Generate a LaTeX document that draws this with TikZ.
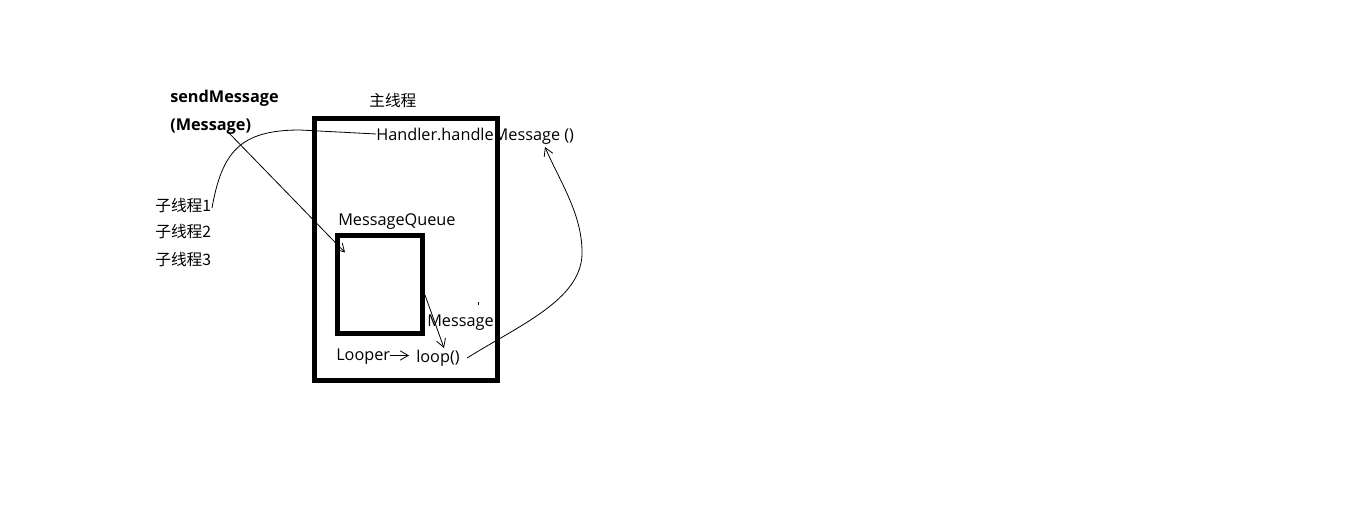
\documentclass[tikz,border=0pt]{standalone}
\usepackage{fontspec}
\setmainfont{Open Sans}
\newfontfamily\cjk{Noto Sans CJK SC}
\usetikzlibrary{arrows.meta}
\begin{document}
\begin{tikzpicture}[x=0.75pt,y=-0.75pt,
  txt/.style={anchor=base west,inner sep=0pt,font=\fontsize{12.2}{14}\selectfont},
  thickbox/.style={draw=black,line width=3.75pt},
  link/.style={draw=black,line width=0.6pt},
  tip/.style={link,-{Straight Barb[length=6pt,width=7pt,line width=0.6pt]}}]
\useasboundingbox[fill=white] (0,0) rectangle (1360,531);

% labels
\node[txt,font=\fontsize{11.8}{14}\selectfont] (main) at (369,107) {\cjk 主线程};
\node[txt,font=\fontsize{12.2}{14}\selectfont\bfseries] (send) at (170,103) {sendMessage};
\node[txt,font=\fontsize{12.2}{14}\selectfont\bfseries] (sendarg) at (170,131) {(Message)};
\node[txt,font=\fontsize{11.8}{14}\selectfont] (t1) at (155,211) {\cjk 子线程1};
\node[txt,font=\fontsize{11.8}{14}\selectfont] (t2) at (155,238) {\cjk 子线程2};
\node[txt,font=\fontsize{11.8}{14}\selectfont] (t3) at (155,265) {\cjk 子线程3};
\node[txt] (handler) at (376,141) {Handler.handleMessage ()};
\node[txt] (mq) at (338,225) {MessageQueue};
\node[txt] (msg) at (427,326) {Message};
\node[txt] (looper) at (336,360) {Looper};
\node[txt] (loop) at (416,362) {loop()};

% main thread frame and the message queue inside it, drawn over the labels
\draw[thickbox] (314,118.5) rectangle (497,380);
\draw[thickbox] (337.5,235) rectangle (422.5,333);

% anchor points for the connectors
\coordinate (t1end) at (212,208);
\coordinate (hin) at (376,134);
\coordinate (argout) at (228,132);
\coordinate (mqin) at (345,252.5);
\coordinate (mqout) at (425,295);
\coordinate (loopin) at (444,348);
\coordinate (lpout) at (390,355.5);
\coordinate (lpin) at (409,355.5);
\coordinate (loopout) at (467,358);
\coordinate (hback) at (545,147);

% worker thread 1 reaches the handler
\draw[link] (t1end) .. controls (222,152) and (240,130) .. (300,130) -- (hin);
% sendMessage puts the message into the queue
\draw[tip] (argout) -- (mqin);
% the looper takes the message out
\draw[tip] (mqout) -- (loopin);
\draw[tip] (lpout) -- (lpin);
% loop() dispatches back to handleMessage
\draw[tip] (loopout) .. controls (520,325) and (580,300) .. (582,255)
  .. controls (583,215) and (560,182) .. (hback);

% small stray mark
\draw[link] (478.3,302) -- (478.3,305);
\end{tikzpicture}
\end{document}
